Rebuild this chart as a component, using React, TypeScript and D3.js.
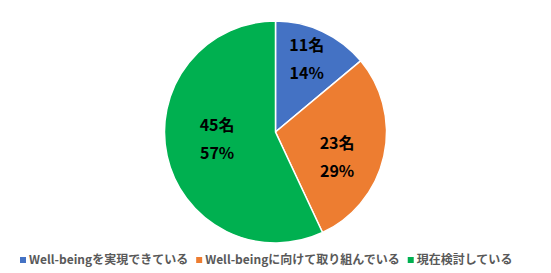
import React, { useEffect, useRef } from "react";
import * as d3 from "d3";

const categories = ["Well-beingを実現できている", "Well-beingに向けて取り組んでいる", "現在検討している"];
const counts = [11, 23, 45];
const percents = ["14%", "29%", "57%"];
const colors = ["#4472C4", "#ED7D31", "#00B050"];

const W = 551;
const H = 273;
const CX = 275.5;
const CY = 132;
const R = 111;
// label placement (radius fraction, angle shift in radians) per slice
const labelLayout = [
  { rf: 0.71, da: -0.03 },
  { rf: 0.6, da: 0.17 },
  { rf: 0.53, da: 0.1 },
];

export default function App() {
  const ref = useRef<SVGSVGElement>(null);
  useEffect(() => {
    const svg = d3.select(ref.current);
    svg.selectAll("*").remove();
    const font = "'Noto Sans CJK JP', 'Noto Sans', sans-serif";
    const pie = d3.pie<number>().sort(null).value((d) => d);
    const arcs = pie(counts);
    const arc = d3.arc<d3.PieArcDatum<number>>().innerRadius(0).outerRadius(R);
    const g = svg.append("g").attr("transform", `translate(${CX},${CY})`);
    g.selectAll("path")
      .data(arcs)
      .enter()
      .append("path")
      .attr("d", arc as any)
      .attr("fill", (_d, i) => colors[i])
      .attr("stroke", "#fff")
      .attr("stroke-width", 1.5);
    arcs.forEach((a, i) => {
      const mid = (a.startAngle + a.endAngle) / 2 + labelLayout[i].da;
      const r = R * labelLayout[i].rf;
      const x = Math.sin(mid) * r;
      const y = -Math.cos(mid) * r;
      const t = g
        .append("text")
        .attr("text-anchor", "middle")
        .attr("font-family", font)
        .attr("font-weight", "bold")
        .attr("font-size", 16)
        .attr("fill", "#000");
      t.append("tspan").attr("x", x).attr("y", y - 14).attr("dy", "0.35em").text(`${counts[i]}名`);
      t.append("tspan").attr("x", x).attr("y", y + 14).attr("dy", "0.35em").text(percents[i]);
    });
    // legend
    const lg = svg.append("g");
    let x = 20;
    const ly = 260;
    categories.forEach((c, i) => {
      lg.append("rect").attr("x", x).attr("y", ly - 3).attr("width", 6).attr("height", 6).attr("fill", colors[i]);
      const t = lg
        .append("text")
        .attr("x", x + 9)
        .attr("y", ly)
        .attr("dy", "0.35em")
        .attr("font-family", font)
        .attr("font-weight", "bold")
        .attr("font-size", 12)
        .attr("fill", "#595959")
        .text(c);
      const w = (t.node() as SVGTextElement).getComputedTextLength();
      x += 9 + w + 8;
    });
  }, []);
  return <svg ref={ref} width={W} height={H} style={{ display: "block", position: "absolute", left: 0, top: 0 }} />;
}
